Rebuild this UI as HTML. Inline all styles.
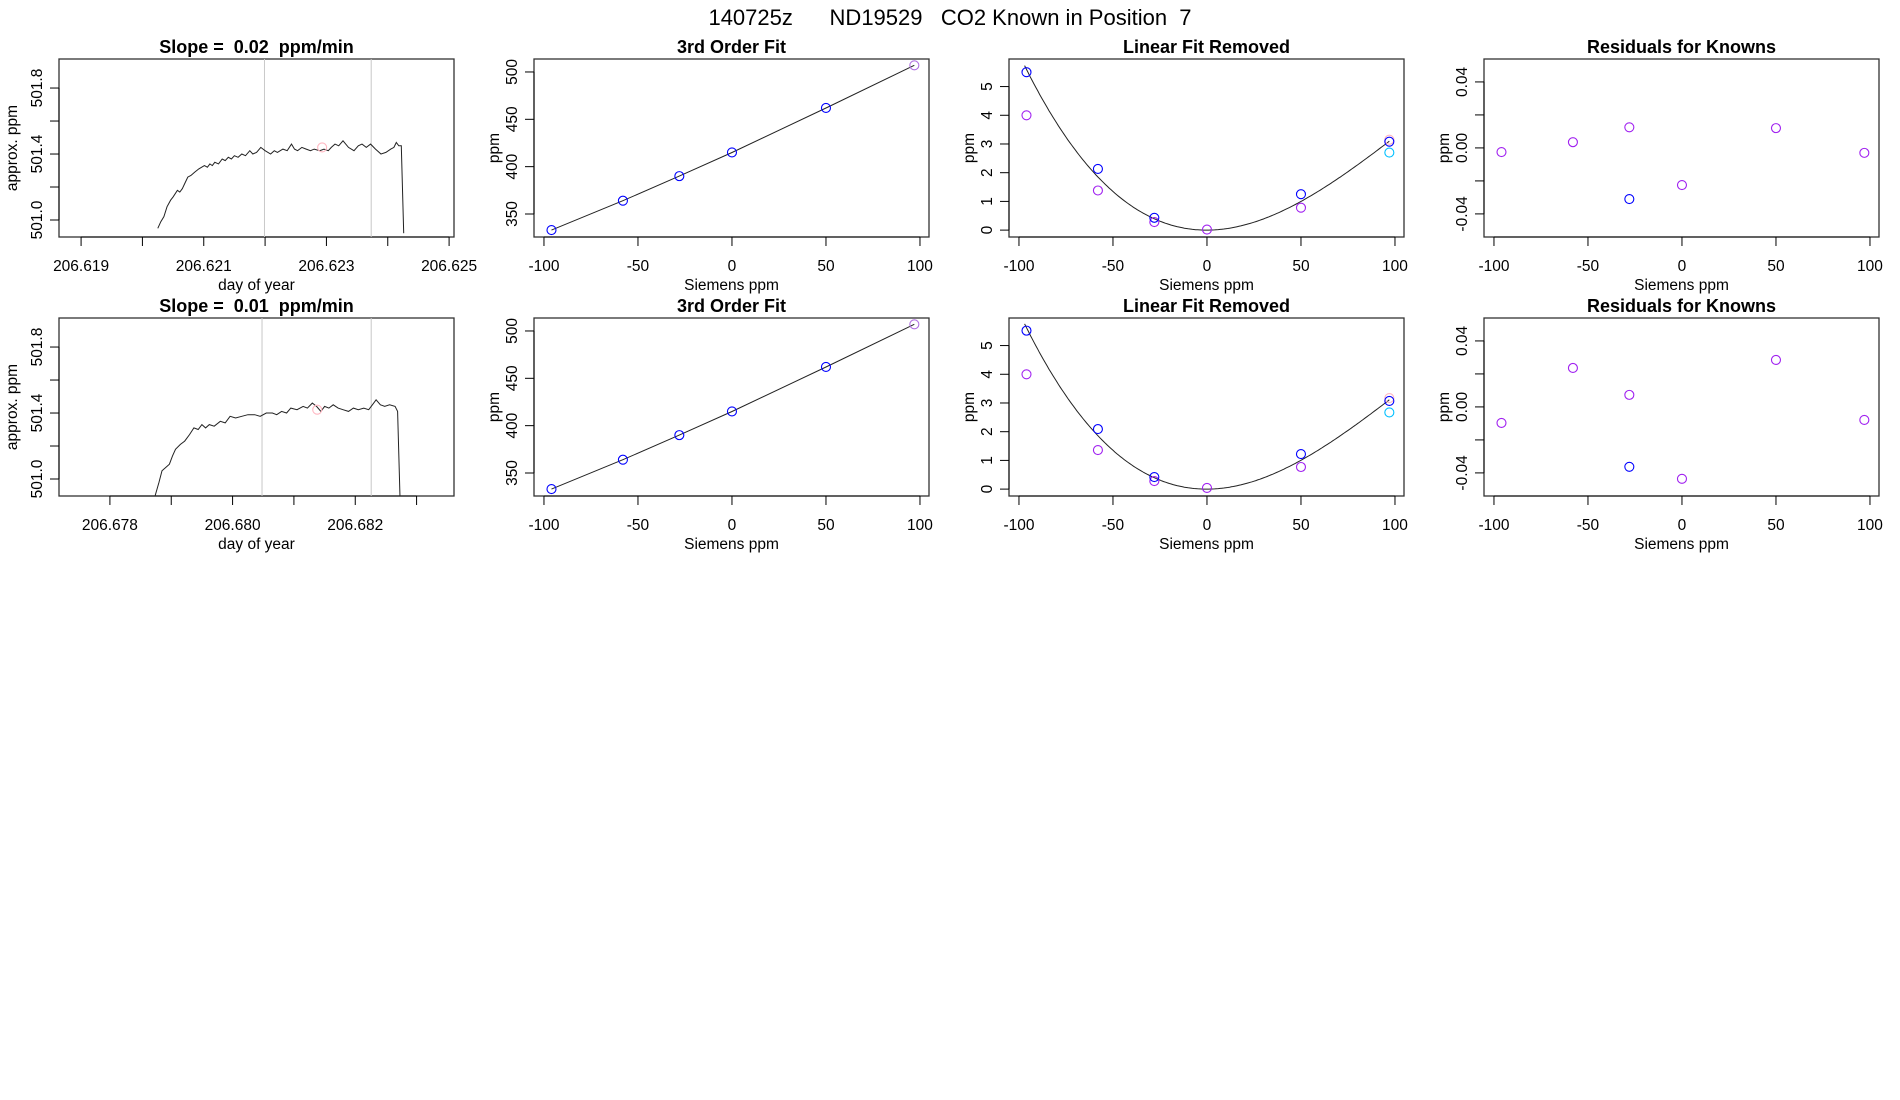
<!DOCTYPE html>
<html><head><meta charset="utf-8"><style>
html,body{margin:0;padding:0;background:#fff;}
svg{display:block;font-family:"Liberation Sans",sans-serif;}
svg text{white-space:pre;}
</style></head><body>
<svg id="chart" width="1900" height="1100" viewBox="0 0 1900 1100" xmlns="http://www.w3.org/2000/svg">
<text x="950" y="25" text-anchor="middle" font-size="22" xml:space="preserve">140725z      ND19529   CO2 Known in Position  7</text>
</svg>
<script>
// ---------- data ----------
const ts1Day=[206.62025,206.62030,206.62035,206.62040,206.62046,206.62050,206.62057,206.62061,206.62065,206.62070,206.62074,206.62079,206.62085,206.62092,206.62101,206.62106,206.62110,206.62114,206.62118,206.62124,206.62130,206.62135,206.62140,206.62145,206.62150,206.62156,206.62162,206.62168,206.62175,206.62180,206.62186,206.62193,206.62200,206.62209,206.62215,206.62220,206.62229,206.62236,206.62243,206.62248,206.62253,206.62260,206.62267,206.62274,206.62280,206.62289,206.62296,206.62303,206.62308,206.62314,206.62320,206.62327,206.62336,206.62345,206.62352,206.62358,206.62365,206.62372,206.62380,206.62389,206.62397,206.62405,206.62410,206.62414,206.62418,206.62422,206.62426];
const ts1Ppm=[500.95,500.99,501.02,501.08,501.12,501.14,501.18,501.17,501.19,501.23,501.26,501.27,501.29,501.31,501.33,501.32,501.34,501.33,501.35,501.34,501.37,501.36,501.38,501.37,501.39,501.38,501.40,501.39,501.42,501.40,501.41,501.44,501.42,501.40,501.42,501.41,501.43,501.42,501.46,501.43,501.42,501.44,501.43,501.42,501.43,501.42,501.43,501.42,501.44,501.46,501.45,501.48,501.44,501.42,501.45,501.46,501.44,501.46,501.43,501.40,501.41,501.43,501.44,501.47,501.45,501.45,500.92];
const ts1Marks=[206.62199,206.62373];
const ts1Pink=[206.62293,501.44];
const ts2Day=[206.67873,206.67880,206.67885,206.67891,206.67897,206.67902,206.67907,206.67915,206.67922,206.67930,206.67937,206.67944,206.67950,206.67956,206.67962,206.67970,206.67980,206.67988,206.67996,206.68005,206.68015,206.68025,206.68036,206.68045,206.68055,206.68065,206.68072,206.68080,206.68088,206.68095,206.68105,206.68115,206.68122,206.68130,206.68137,206.68144,206.68150,206.68157,206.68164,206.68172,206.68180,206.68189,206.68197,206.68205,206.68214,206.68222,206.68228,206.68234,206.68241,206.68248,206.68256,206.68265,206.68269,206.68273];
const ts2Ppm=[500.89,500.98,501.05,501.07,501.09,501.14,501.18,501.21,501.23,501.27,501.31,501.30,501.33,501.31,501.33,501.32,501.35,501.34,501.38,501.37,501.38,501.39,501.39,501.38,501.40,501.40,501.39,501.41,501.40,501.43,501.42,501.44,501.43,501.46,501.44,501.41,501.44,501.43,501.45,501.43,501.42,501.41,501.43,501.42,501.43,501.42,501.45,501.48,501.45,501.44,501.45,501.44,501.41,500.89];
const ts2Marks=[206.68048,206.68226];
const ts2Pink=[206.68138,501.42];

const knownX=[-96,-58,-28,0,50,97];
const fit1Y=[333,364,390,415,462,507];
const fit2Y=[333,364,390,415,462,507];

const lin1BlueX=[-96,-58,-28,50,97], lin1BlueY=[5.5,2.13,0.43,1.25,3.08];
const lin1PurpX=[-96,-58,-28,0,50], lin1PurpY=[4.0,1.38,0.28,0.02,0.78];
const lin1Cyan=[97,2.7]; const lin1Pinkish=[97,3.15];
const lin2BlueX=[-96,-58,-28,50,97], lin2BlueY=[5.52,2.09,0.42,1.22,3.07];
const lin2PurpX=[-96,-58,-28,0,50], lin2PurpY=[4.0,1.36,0.28,0.04,0.77];
const lin2Cyan=[97,2.67]; const lin2Pinkish=[97,3.17];
const curveCoef1=[0,0.0002,0.000469,-0.000001463];
const curveCoef2=[0,0.0002,0.000471,-0.000001470];

const res1PurpX=[-96,-58,-28,0,50,97], res1PurpY=[-0.0025,0.0035,0.0125,-0.0225,0.012,-0.003];
const res1Blue=[-28,-0.031];
const res2PurpX=[-96,-58,-28,0,50,97], res2PurpY=[-0.0097,0.0236,0.0073,-0.0436,0.0285,-0.0079];
const res2Blue=[-28,-0.0363];

const tsTitles=["Slope =  0.02  ppm/min","Slope =  0.01  ppm/min"];
const tsXTicks1=[206.619,206.620,206.621,206.622,206.623,206.624,206.625];
const tsXLabels1=["206.619","","206.621","","206.623","","206.625"];
const tsXTicks2=[206.678,206.679,206.680,206.681,206.682,206.683];
const tsXLabels2=["206.678","","206.680","","206.682",""];
const tsYTicks=[501.0,501.2,501.4,501.6,501.8];
const tsYLabels=["501.0","","501.4","","501.8"];
const sxTicks=[-100,-50,0,50,100];
const sxLabels=["-100","-50","0","50","100"];
const fitYTicks=[350,400,450,500];
const linYTicks=[0,1,2,3,4,5];
const resYTicks=[-0.04,-0.02,0,0.02,0.04];
const resYLabels=["-0.04","","0.00","","0.04"];

// ---------- drawing ----------
const svg=document.getElementById('chart');
const NS='http://www.w3.org/2000/svg';
function mk(tag,attrs,parent){const e=document.createElementNS(NS,tag);for(const k in attrs)e.setAttribute(k,attrs[k]);(parent||svg).appendChild(e);return e;}
function scale(d0,d1,r0,r1){return v=>r0+(v-d0)/(d1-d0)*(r1-r0);}

const COLX=[59,534,1009,1484], W=395;
const ROWY=[59,318], H=178;

function panel(name,col,row,title,xd,yd,xt,xl,yt,yl,xlab,ylab){
  const g=mk('g',{});
  
  
  const L=COLX[col],T=ROWY[row],R=L+W,B=T+H;
  const X=scale(xd[0],xd[1],L,R), Y=scale(yd[0],yd[1],B,T);
  const t=mk('text',{x:(L+R)/2,y:T-6,'text-anchor':'middle','font-size':'18','font-weight':'bold'},g);
  t.textContent=title;
  
  
  const bx=mk('rect',{x:L,y:T,width:W,height:H,fill:'none',stroke:'#333','stroke-width':'1.3'},g);
  
  
  const xa=mk('g',{},g);
  
  
  mk('line',{x1:X(xt[0]),x2:X(xt[xt.length-1]),y1:B,y2:B,stroke:'#000'},xa);
  xt.forEach((v,i)=>{mk('line',{x1:X(v),x2:X(v),y1:B,y2:B+9,stroke:'#000'},xa);
    if(xl[i]){const tx=mk('text',{x:X(v),y:B+34,'text-anchor':'middle','font-size':'15.5'},xa);tx.textContent=xl[i];
      
      }});
  const xlb=mk('text',{x:(L+R)/2,y:B+53,'text-anchor':'middle','font-size':'15.5'},xa);xlb.textContent=xlab;
  
  
  const ya=mk('g',{},g);
  
  
  mk('line',{x1:L,x2:L,y1:Y(yt[0]),y2:Y(yt[yt.length-1]),stroke:'#000'},ya);
  yt.forEach((v,i)=>{mk('line',{x1:L,x2:L-9,y1:Y(v),y2:Y(v),stroke:'#000'},ya);
    if(yl[i]){const ty=mk('text',{x:0,y:0,'text-anchor':'middle','font-size':'15.5',transform:`translate(${L-17},${Y(v)}) rotate(-90)`},ya);ty.textContent=yl[i];
      
      }});
  const ylb=mk('text',{x:0,y:0,'text-anchor':'middle','font-size':'15.5',transform:`translate(${L-(col===0?42:35)},${(T+B)/2}) rotate(-90)`},ya);ylb.textContent=ylab;
  
  
  const clip='c'+col+row;
  const cp=mk('clipPath',{id:clip},g);mk('rect',{x:L,y:T,width:W,height:H},cp);
  const pg=mk('g',{'clip-path':`url(#${clip})`},g);
  return {X,Y,g:pg};
}
function circ(p,x,y,col,name){const c=mk('circle',{cx:p.X(x),cy:p.Y(y),r:4.5,fill:'none',stroke:col,'stroke-width':'1.1'},p.g);
  
  }
function line(p,xs,ys,col,name,w){const d=xs.map((x,i)=>(i?'L':'M')+p.X(x).toFixed(1)+','+p.Y(ys[i]).toFixed(1)).join('');
  const l=mk('path',{d:d,fill:'none',stroke:col,'stroke-width':w||1},p.g);
  
  }

const BLUE='#0000ff',PURP='#a020f0',CYAN='#00bfff',PINK='#ffb6c1';
const sxd=[-105.3,104.8];

const rows=[
 {day:ts1Day,ppm:ts1Ppm,marks:ts1Marks,pink:ts1Pink,xd:[206.61864,206.62508],xt:tsXTicks1,xl:tsXLabels1,
  fit:fit1Y,lbx:lin1BlueX,lby:lin1BlueY,lpx:lin1PurpX,lpy:lin1PurpY,cy:lin1Cyan,pk:lin1Pinkish,coef:curveCoef1,
  rpx:res1PurpX,rpy:res1PurpY,rb:res1Blue},
 {day:ts2Day,ppm:ts2Ppm,marks:ts2Marks,pink:ts2Pink,xd:[206.67717,206.68361],xt:tsXTicks2,xl:tsXLabels2,
  fit:fit2Y,lbx:lin2BlueX,lby:lin2BlueY,lpx:lin2PurpX,lpy:lin2PurpY,cy:lin2Cyan,pk:lin2Pinkish,coef:curveCoef2,
  rpx:res2PurpX,rpy:res2PurpY,rb:res2Blue}
];
rows.forEach((r,ri)=>{
  const p1=panel('timeseries-panel-'+(ri+1),0,ri,tsTitles[ri],r.xd,[500.897,501.976],r.xt,r.xl,tsYTicks,tsYLabels,'day of year','approx. ppm');
  r.marks.forEach(m=>{const l=mk('line',{x1:p1.X(m),x2:p1.X(m),y1:ROWY[ri],y2:ROWY[ri]+H,stroke:'#c8c8c8'},p1.g);
    
    });
  line(p1,r.day,r.ppm,'#222','co2-trace',1);
  circ(p1,r.pink[0],r.pink[1],PINK,'mean-point');
  const p2=panel('fit-panel-'+(ri+1),1,ri,'3rd Order Fit',sxd,[325.7,513.7],sxTicks,sxLabels,fitYTicks,fitYTicks.map(String),'Siemens ppm','ppm');
  line(p2,knownX,r.fit,'#222','fit-line',1);
  knownX.forEach((x,i)=>circ(p2,x,r.fit[i],i===knownX.length-1?'#b070e0':BLUE,'known-point'));
  const p3=panel('linear-removed-panel-'+(ri+1),2,ri,'Linear Fit Removed',sxd,[-0.24,5.96],sxTicks,sxLabels,linYTicks,linYTicks.map(String),'Siemens ppm','ppm');
  const cx=[],cyv=[];for(let x=-97;x<=97;x+=1){cx.push(x);cyv.push(r.coef[0]+r.coef[1]*x+r.coef[2]*x*x+r.coef[3]*x*x*x);}
  line(p3,cx,cyv,'#222','cubic-curve',1);
  circ(p3,r.pk[0],r.pk[1],PINK,'unknown-point');
  r.lpx.forEach((x,i)=>circ(p3,x,r.lpy[i],PURP,'measured-point'));
  r.lbx.forEach((x,i)=>circ(p3,x,r.lby[i],BLUE,'known-point'));
  circ(p3,r.cy[0],r.cy[1],CYAN,'sample-point');
  const p4=panel('residuals-panel-'+(ri+1),3,ri,'Residuals for Knowns',sxd,[-0.054,0.0539],sxTicks,sxLabels,resYTicks,resYLabels,'Siemens ppm','ppm');
  r.rpx.forEach((x,i)=>circ(p4,x,r.rpy[i],PURP,'residual-point'));
  circ(p4,r.rb[0],r.rb[1],BLUE,'residual-point-blue');
});
</script>
</body></html>
